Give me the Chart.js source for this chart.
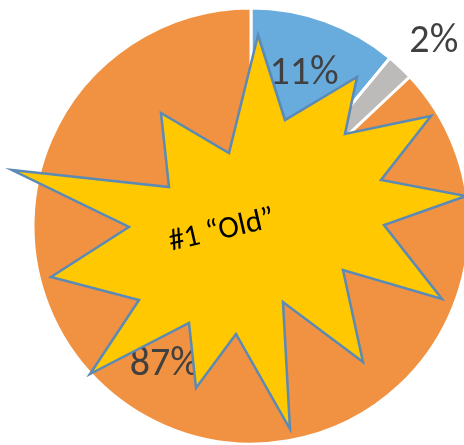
<!DOCTYPE html>
<html>
<head>
<meta charset="utf-8">
<script src="https://cdn.jsdelivr.net/npm/chart.js@4"></script>
<style>
  html, body { margin: 0; padding: 0; background: #fff; overflow: hidden; }
  #wrap { position: absolute; left: 0; top: 0; width: 502px; height: 452px; }
</style>
</head>
<body>
<div id="wrap"><canvas id="pie"></canvas></div>
<script>
// slices, clockwise from 12 o'clock
const labels = ['A', 'B', 'C'];
const shares = [11, 2, 87];
const colors = ['#68abdd', '#bdbbba', '#f09242'];

// label placement: fraction of radius, angle nudge (deg)
const labelRadius = [0.74, 1.19, 0.75];
const labelNudge = [-0.6, 1.6, 8.6];

const calloutText = '#1 \u201cOld\u201d';

// burst outline, clockwise from the top spike
const burst = [
  [258, 35], [285, 120], [357, 77], [345, 134], [431, 116], [381, 180],
  [466, 196], [384, 225], [442, 299], [343, 270], [363, 362], [283, 302],
  [290, 429], [236, 334], [196, 388], [189, 323], [90, 374], [139, 300],
  [51, 277], [129, 227], [12, 170], [169, 187], [161, 113], [229, 153]
];

const FONT = 'Carlito, Calibri, Lato, sans-serif';

const pctLabels = {
  id: 'pctLabels',
  afterDatasetsDraw(chart) {
    const ctx = chart.ctx;
    const arcs = chart.getDatasetMeta(0).data;
    ctx.save();
    ctx.font = '300 40px ' + FONT;
    ctx.fillStyle = '#404040';
    ctx.textAlign = 'center';
    ctx.textBaseline = 'middle';
    arcs.forEach((arc, i) => {
      const p = arc.getProps(['x', 'y', 'startAngle', 'endAngle', 'outerRadius'], true);
      const mid = (p.startAngle + p.endAngle) / 2 + labelNudge[i] * Math.PI / 180;
      const r = p.outerRadius * labelRadius[i];
      ctx.fillText(shares[i] + '%', p.x + Math.cos(mid) * r, p.y + Math.sin(mid) * r);
    });
    ctx.restore();
  }
};

const callout = {
  id: 'callout',
  afterDraw(chart) {
    const ctx = chart.ctx;
    ctx.save();
    ctx.beginPath();
    burst.forEach(([x, y], i) => i ? ctx.lineTo(x, y) : ctx.moveTo(x, y));
    ctx.closePath();
    ctx.fillStyle = '#ffc800';
    ctx.fill();
    ctx.lineWidth = 2.5;
    ctx.lineJoin = 'miter';
    ctx.strokeStyle = '#5a8ab5';
    ctx.stroke();

    ctx.translate(222, 231);
    ctx.rotate(-13 * Math.PI / 180);
    ctx.font = '31px ' + FONT;
    ctx.fillStyle = '#000';
    ctx.textAlign = 'center';
    ctx.textBaseline = 'middle';
    ctx.fillText(calloutText, 0, 0);
    ctx.restore();
  }
};

new Chart(document.getElementById('pie'), {
  type: 'pie',
  data: {
    labels,
    datasets: [{
      data: shares,
      backgroundColor: colors,
      borderColor: '#ffffff',
      borderWidth: 3,
      radius: 218,
    }]
  },
  options: {
    responsive: true,
    maintainAspectRatio: false,
    animation: false,
    layout: { padding: 0 },
    plugins: {
      legend: { display: false },
      tooltip: { enabled: false }
    }
  },
  plugins: [pctLabels, callout]
});
</script>
</body>
</html>
